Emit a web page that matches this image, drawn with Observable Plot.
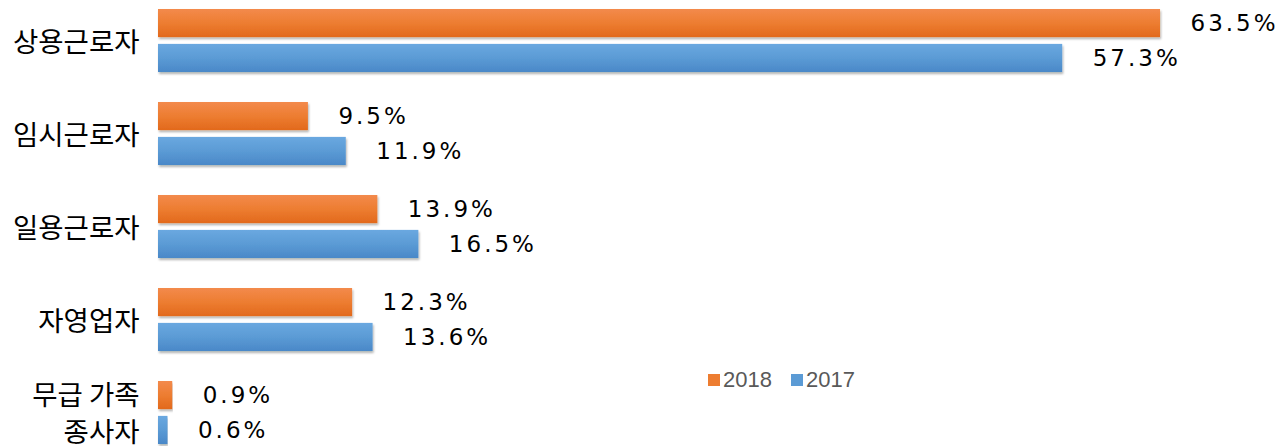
<!DOCTYPE html>
<html>
<head>
<meta charset="utf-8">
<script src="https://cdn.jsdelivr.net/npm/d3@7"></script>
<script src="https://cdn.jsdelivr.net/npm/@observablehq/plot@0.6"></script>
<style>
  html, body { margin: 0; padding: 0; background: #fff; }
  #wrap { position: relative; width: 1284px; height: 446px; overflow: hidden; }
  #legend { position: absolute; left: 708px; top: 367px; font: 22px "Liberation Sans", Arial, sans-serif; color: #595959; display: flex; align-items: center; }
  #legend .sw { display: inline-block; width: 12px; height: 12px; margin-right: 3px; }
  #legend .it { display: flex; align-items: center; margin-right: 19px; }
</style>
</head>
<body>
<div id="wrap"><div id="legend"></div></div>
<script>
const categories = ["상용근로자", "임시근로자", "일용근로자", "자영업자", "무급 가족\n종사자"];
const series = ["2018", "2017"];
const values2018 = [63.5, 9.5, 13.9, 12.3, 0.9];
const values2017 = [57.3, 11.9, 16.5, 13.6, 0.6];
const seriesColors = ["#ED7D31", "#5B9BD5"];

const rows = [];
categories.forEach((c, i) => {
  rows.push({cat: c, series: "2018", value: values2018[i]});
  rows.push({cat: c, series: "2017", value: values2017[i]});
});
const r2018 = rows.filter(d => d.series === "2018");
const r2017 = rows.filter(d => d.series === "2017");

const W = 1284, H = 446;
const step = 93.375;
const yRange = [40 - step / 2, 40 - step / 2 + step * categories.length];
const half = step / 2;
const barH = 28.5, gap = 3.2;

const labelFont = {fontSize: 23, fontFamily: "'DejaVu Sans', sans-serif", fill: "#000"};

const chart = Plot.plot({
  width: W,
  height: H,
  marginLeft: 0, marginRight: 0, marginTop: 0, marginBottom: 0,
  x: {domain: [0, 70], range: [158, 158 + 70 * 15.78], axis: null},
  y: {domain: categories, range: yRange, padding: 0, axis: null},
  marks: [
    Plot.barX(r2018, {x: "value", y: "cat", fill: "url(#gOrange)",
      insetTop: half - gap - barH, insetBottom: half + gap}),
    Plot.barX(r2017, {x: "value", y: "cat", fill: "url(#gBlue)",
      insetTop: half + gap, insetBottom: half - gap - barH}),
    Plot.text(r2018, {x: "value", y: "cat", text: d => d.value.toFixed(1) + "%",
      dx: 30, dy: -(gap + barH / 2), textAnchor: "start", ...labelFont}),
    Plot.text(r2017, {x: "value", y: "cat", text: d => d.value.toFixed(1) + "%",
      dx: 30, dy: (gap + barH / 2), textAnchor: "start", ...labelFont}),
    Plot.text(categories, {x: 0, y: d => d, text: d => d, dx: -19, textAnchor: "end",
      lineHeight: 1.35, fontSize: 27.5, fill: "#000", dy: -1,
      fontFamily: "'Noto Sans CJK KR', 'Noto Sans', sans-serif"})
  ]
});

// gradients and shadow
const svg = d3.select(chart);
const defs = svg.insert("defs", ":first-child");
function grad(id, top, mid, bot) {
  const g = defs.append("linearGradient").attr("id", id).attr("x1", 0).attr("y1", 0).attr("x2", 0).attr("y2", 1);
  g.append("stop").attr("offset", "0%").attr("stop-color", top);
  g.append("stop").attr("offset", "50%").attr("stop-color", mid);
  g.append("stop").attr("offset", "100%").attr("stop-color", bot);
}
grad("gOrange", "#F38A4C", "#ED7D31", "#E2691C");
grad("gBlue", "#6AA8E0", "#5B9BD5", "#4A88C8");
const f = defs.append("filter").attr("id", "shadow").attr("x", "-5%").attr("y", "-20%").attr("width", "110%").attr("height", "150%");
f.append("feDropShadow").attr("dx", 1).attr("dy", 2).attr("stdDeviation", 1.2).attr("flood-color", "#000").attr("flood-opacity", 0.3);
svg.selectAll("g[aria-label='bar'] rect").attr("filter", "url(#shadow)");
const textGroups = svg.selectAll("g[aria-label='text']");
textGroups.filter((d, i) => i < 2).selectAll("text").style("letter-spacing", "3px");

document.getElementById("wrap").prepend(chart);

// legend
const lg = d3.select("#legend");
series.forEach((s, i) => {
  const it = lg.append("div").attr("class", "it");
  it.append("span").attr("class", "sw").style("background", seriesColors[i]);
  it.append("span").text(s);
});
</script>
</body>
</html>
